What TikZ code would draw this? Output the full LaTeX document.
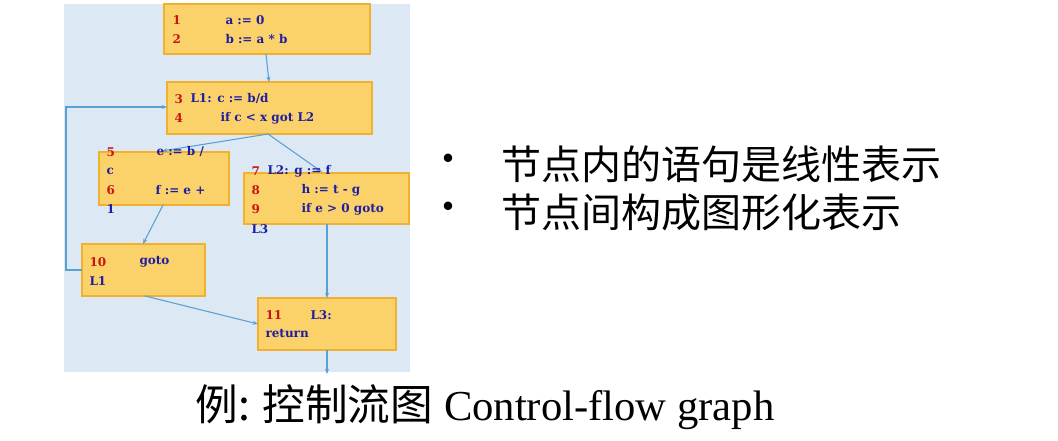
\documentclass[tikz,border=0pt]{standalone}
\usepackage{fontspec}
\setmainfont{Liberation Serif}
\newfontfamily\cjk{Noto Sans CJK SC}
\newfontfamily\blockfont{DejaVu Serif}
\usetikzlibrary{arrows.meta}
\definecolor{panelblue}{RGB}{220,233,245}
\definecolor{boxfill}{RGB}{251,209,106}
\definecolor{boxline}{RGB}{240,176,48}
\definecolor{numred}{RGB}{200,20,20}
\definecolor{codeblue}{RGB}{30,30,160}
\definecolor{edgeblue}{RGB}{90,160,210}
\tikzset{every picture/.style={line width=0.75pt}}
\tikzset{
  blockbox/.style={draw=boxline, fill=boxfill, line width=1pt},
  num/.style={anchor=west, inner sep=0.75pt, text=numred, font=\blockfont\bfseries\fontsize{9}{11}\selectfont},
  code/.style={anchor=west, inner sep=0.75pt, text=codeblue, font=\blockfont\bfseries\fontsize{9}{11}\selectfont},
  flow/.style={draw=edgeblue, line width=0.8pt, -{Stealth[length=4pt,width=3pt]}}
}
\begin{document}
\begin{tikzpicture}[x=0.75pt,y=0.75pt,yscale=-1,xscale=1]
\useasboundingbox (0,0) rectangle (1058,441);
%Panel
\fill [panelblue] (64,4) rectangle (410,372);

%Blocks
\draw [blockbox] (164,4) rectangle (370,54);
\coordinate (B1s) at (266,54);
\draw [blockbox] (167,82) rectangle (372,134);
\coordinate (B2n) at (269,82); \coordinate (B2s) at (268,134); \coordinate (B2w) at (167,107);
\draw [blockbox] (99,152) rectangle (229,205);
\coordinate (B3n) at (162,151); \coordinate (B3s) at (163,205);
\draw [blockbox] (244,173) rectangle (409,224);
\coordinate (B4n) at (322,172); \coordinate (B4s) at (327,224);
\draw [blockbox] (82,244) rectangle (205,296);
\coordinate (B5n) at (143,244); \coordinate (B5w) at (82,270); \coordinate (B5s) at (145,296);
\draw [blockbox] (258,298) rectangle (396,350);
\coordinate (B6n) at (327,298); \coordinate (B6w) at (258,324); \coordinate (B6s) at (327,350);
\coordinate (exit) at (327,374);

%Edges
\draw [flow] (B1s) -- (B2n);
\draw [flow] (B2s) -- (B3n);
\draw [flow] (B2s) -- (B4n);
\draw [flow] (B3s) -- (B5n);
\draw [flow] (B5w) -- (66,270) -- (66,107) -- (B2w);
\draw [flow] (B5s) -- (B6w);
\draw [flow] (B4s) -- (B6n);
\draw [flow] (B6s) -- (exit);

%Block text
\node [num] (n1) at (171,20) {1};  \node [code] (c1) at (224,20) {a := 0};
\node [num] (n2) at (171,39) {2};  \node [code] (c2) at (224,39) {b := a * b};
\node [num] (n3) at (173,99) {3};  \node [code] (c3) at (189,99) {L1: c := b/d};
\node [num] (n4) at (173,118) {4}; \node [code] (c4) at (219,118) {if c < x got L2};
\node [num] (n5) at (105,152) {5}; \node [code] (c5) at (155,152) {e := b /};
\node [code] (c5b) at (105,171) {c};
\node [num] (n6) at (105,190) {6}; \node [code] (c6) at (154,190) {f := e +};
\node [code] (c6b) at (105,209) {1};
\node [num] (n7) at (250,171) {7}; \node [code] (c7) at (266,171) {L2: g := f};
\node [num] (n8) at (250,190) {8}; \node [code] (c8) at (300,190) {h := t - g};
\node [num] (n9) at (250,209) {9}; \node [code] (c9) at (300,209) {if e > 0 goto};
\node [code] (c9b) at (250,229) {L3};
\node [num] (n10) at (88,262) {10}; \node [code] (c10) at (138,262) {goto};
\node [code] (c10b) at (88,281) {L1};
\node [num] (n11) at (264,315) {11}; \node [code] (c11) at (309,315) {L3:};
\node [code] (c11b) at (264,334) {return};

%Bullets
\node [anchor=center, font=\cjk\fontsize{30}{34}\selectfont] (d1) at (448,164) {•};
\node [anchor=west, inner sep=0.75pt, font=\cjk\fontsize{30}{34}\selectfont] (t1) at (500,164) {节点内的语句是线性表示};
\node [anchor=center, font=\cjk\fontsize{30}{34}\selectfont] (d2) at (448,212) {•};
\node [anchor=west, inner sep=0.75pt, font=\cjk\fontsize{30}{34}\selectfont] (t2) at (500,212) {节点间构成图形化表示};

%Caption
\node [anchor=center, inner sep=0.75pt, font=\fontsize{32}{36}\selectfont] (cap) at (485,407) {{\cjk 例: 控制流图} Control-flow graph};
\end{tikzpicture}
\end{document}
